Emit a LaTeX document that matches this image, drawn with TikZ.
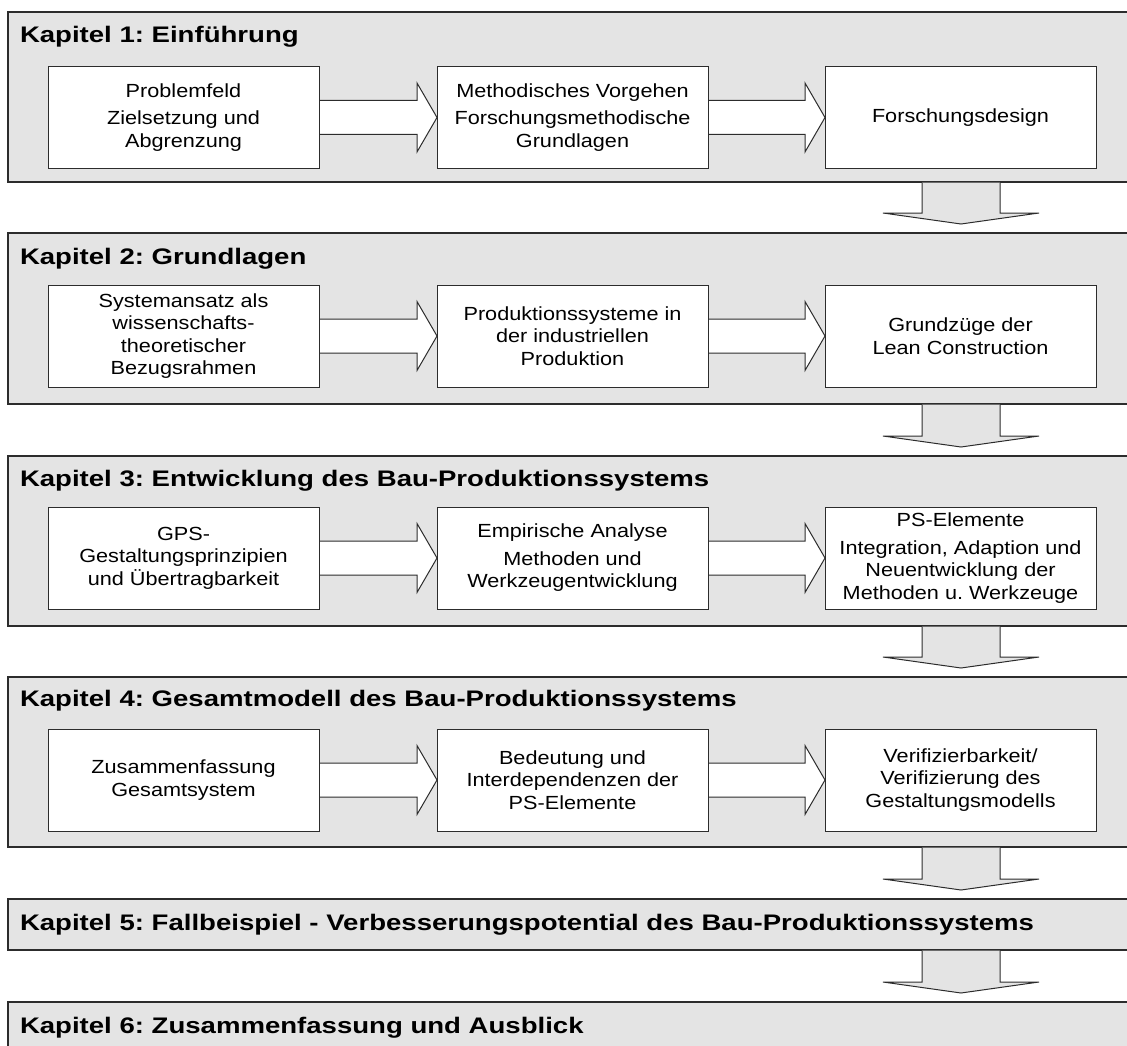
\documentclass[tikz,border=0pt]{standalone}
\usepackage{fontspec}
\setmainfont{Liberation Sans}[FakeStretch=1.14]
\newfontfamily\ttlfont{Liberation Sans}[FakeStretch=1.225]
\usetikzlibrary{calc}
\pgfdeclarelayer{chapters}
\pgfdeclarelayer{arrows}
\pgfsetlayers{chapters,arrows,main}
\frenchspacing

\definecolor{chapfill}{HTML}{E4E4E4}
\definecolor{edge}{HTML}{2C2C2C}

\tikzset{
  chapter/.style={draw=edge, line width=1.4pt, fill=chapfill, rectangle,
    anchor=north west, inner sep=0pt, outer sep=0pt, minimum width=1140pt},
  chaptitle/.style={anchor=base west, inner sep=0pt, outer sep=0pt,
    font=\ttlfont\bfseries\fontsize{22.5}{26}\selectfont},
  stepbox/.style={draw=edge, line width=1pt, fill=white, rectangle,
    anchor=north west, minimum width=271pt, minimum height=102pt,
    inner sep=0pt, outer sep=0pt, align=center,
    font=\fontsize{19}{22.5}\selectfont},
  flatarrow/.style={draw=edge, line width=1pt, fill=white, line join=miter},
  downarrow/.style={draw=edge, line width=1pt, fill=chapfill, line join=miter},
}

% block arrow pointing right, from the east side of #1 to the west side of #2
\newcommand{\flowright}[2]{%
  \draw[flatarrow] ($(#1.east)+(0,17)$) -- ($(#2.west)+(-20,17)$)
    -- ($(#2.west)+(-20,34.5)$) -- (#2.west) -- ($(#2.west)+(-20,-34.5)$)
    -- ($(#2.west)+(-20,-17)$) -- ($(#1.east)+(0,-17)$);}

% block arrow pointing down, from chapter #1 towards chapter #2
\newcommand{\flowdown}[2]{%
  \draw[downarrow] ($(#1.south -| dx)+(-39,-0.7)$) -- ($(#2.north -| dx)+(-39,20)$)
    -- ($(#2.north -| dx)+(-78,20)$) -- ($(#2.north -| dx)+(0,9)$)
    -- ($(#2.north -| dx)+(78,20)$) -- ($(#2.north -| dx)+(39,20)$)
    -- ($(#1.south -| dx)+(39,-0.7)$);}

\begin{document}
\begin{tikzpicture}[x=1pt, y=1pt]
  \useasboundingbox (0,0) rectangle (1127,-1046);
  \coordinate (dx) at (961,0);

  % chapter frames
  \begin{pgfonlayer}{chapters}
    \node[chapter, minimum height=170pt] (ch1) at (8,-12) {};
    \node[chapter, minimum height=171pt] (ch2) at (8,-233) {};
    \node[chapter, minimum height=170pt] (ch3) at (8,-456) {};
    \node[chapter, minimum height=170pt] (ch4) at (8,-677) {};
    \node[chapter, minimum height=51pt]  (ch5) at (8,-899) {};
    \node[chapter, minimum height=80pt]  (ch6) at (8,-1002) {};
  \end{pgfonlayer}

  % chapter titles
  \node[chaptitle] (t1) at ($(ch1.north west)+(12,-31)$) {Kapitel 1: Einführung};
  \node[chaptitle] (t2) at ($(ch2.north west)+(12,-31)$) {Kapitel 2: Grundlagen};
  \node[chaptitle] (t3) at ($(ch3.north west)+(12,-30)$) {Kapitel 3: Entwicklung des Bau-Produktionssystems};
  \node[chaptitle] (t4) at ($(ch4.north west)+(12,-29)$) {Kapitel 4: Gesamtmodell des Bau-Produktionssystems};
  \node[chaptitle] (t5) at ($(ch5.north west)+(12,-31)$) {Kapitel 5: Fallbeispiel - Verbesserungspotential des Bau-Produktionssystems};
  \node[chaptitle] (t6) at ($(ch6.north west)+(12,-31)$) {Kapitel 6: Zusammenfassung und Ausblick};

  % chapter 1
  \node[stepbox, minimum height=101pt] (a1) at (48,-67)  {Problemfeld\\[5pt]Zielsetzung und\\Abgrenzung};
  \node[stepbox, minimum height=101pt] (a2) at (437,-67) {Methodisches Vorgehen\\[5pt]Forschungsmethodische\\Grundlagen};
  \node[stepbox, minimum height=101pt] (a3) at (825,-67) {Forschungsdesign};

  % chapter 2
  \node[stepbox] (b1) at (48,-285)  {Systemansatz als\\wissenschafts-\\theoretischer\\Bezugsrahmen};
  \node[stepbox] (b2) at (437,-285) {Produktionssysteme in\\der industriellen\\Produktion};
  \node[stepbox] (b3) at (825,-285) {Grundzüge der\\Lean Construction};

  % chapter 3
  \node[stepbox] (c1) at (48,-507)  {GPS-\\Gestaltungsprinzipien\\und Übertragbarkeit};
  \node[stepbox] (c2) at (437,-507) {Empirische Analyse\\[5pt]Methoden und\\Werkzeugentwicklung};
  \node[stepbox] (c3) at (825,-507) {PS-Elemente\\[5pt]Integration, Adaption und\\Neuentwicklung der\\Methoden u. Werkzeuge};

  % chapter 4
  \node[stepbox] (d1) at (48,-729)  {Zusammenfassung\\Gesamtsystem};
  \node[stepbox] (d2) at (437,-729) {Bedeutung und\\Interdependenzen der\\PS-Elemente};
  \node[stepbox] (d3) at (825,-729) {Verifizierbarkeit/\\Verifizierung des\\Gestaltungsmodells};

  % arrows
  \begin{pgfonlayer}{arrows}
    \flowright{a1}{a2} \flowright{a2}{a3}
    \flowright{b1}{b2} \flowright{b2}{b3}
    \flowright{c1}{c2} \flowright{c2}{c3}
    \flowright{d1}{d2} \flowright{d2}{d3}
    \flowdown{ch1}{ch2}
    \flowdown{ch2}{ch3}
    \flowdown{ch3}{ch4}
    \flowdown{ch4}{ch5}
    \flowdown{ch5}{ch6}
  \end{pgfonlayer}
\end{tikzpicture}
\end{document}
